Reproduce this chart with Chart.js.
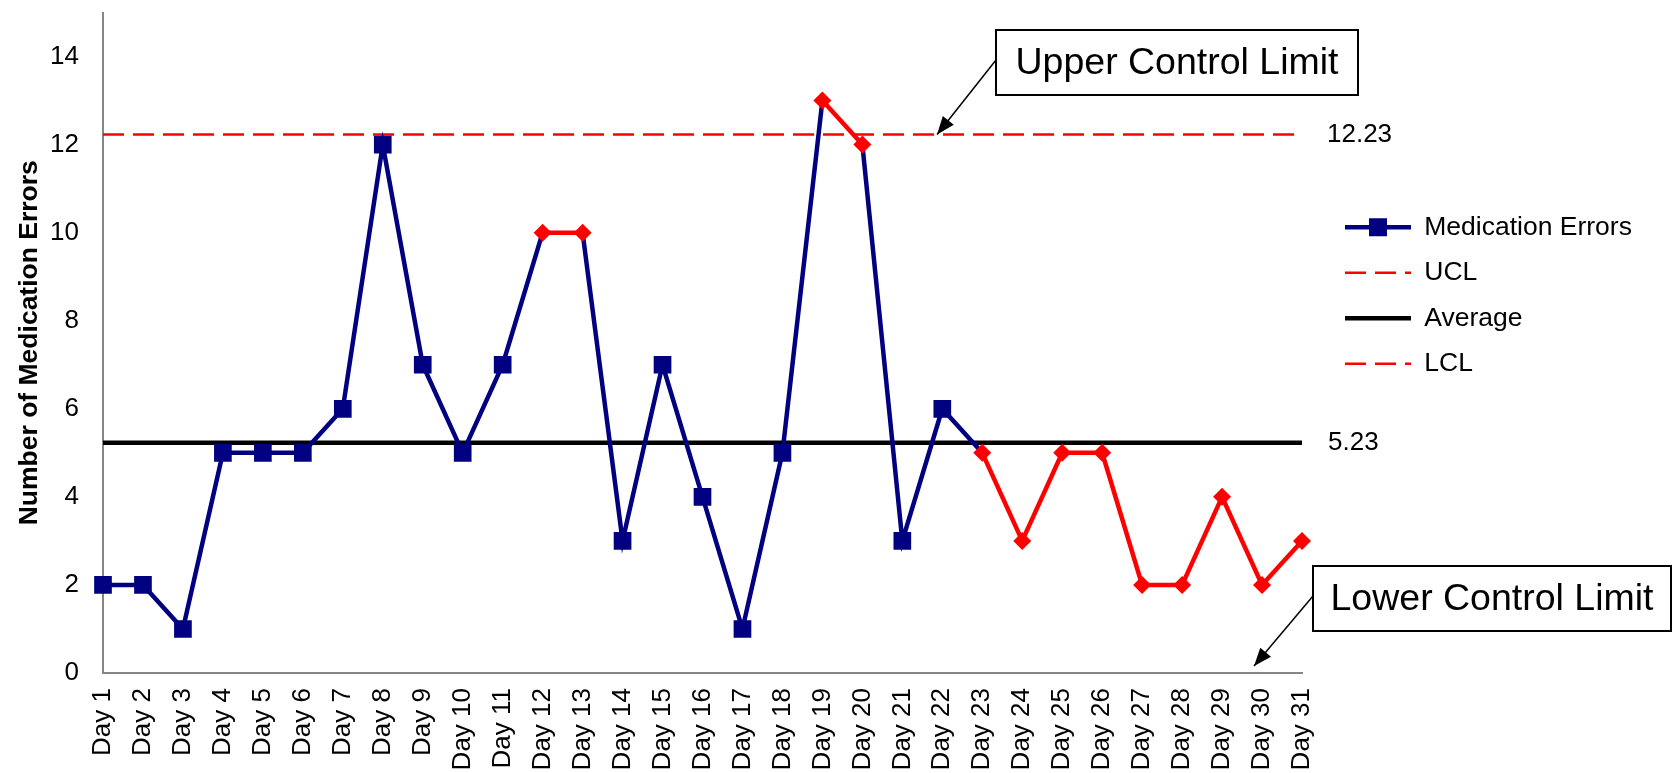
<!DOCTYPE html>
<html>
<head>
<meta charset="utf-8">
<title>Medication Errors Control Chart</title>
<script src="https://cdn.jsdelivr.net/npm/chart.js@4/dist/chart.umd.min.js"></script>
<style>
    html, body { margin: 0; padding: 0; background: #ffffff; }
    #wrap { width: 1679px; height: 773px; position: relative; }
</style>
</head>
<body>
<div id="wrap"><canvas id="controlChart"></canvas></div>
<script>
// Chart data
const days = ["Day 1", "Day 2", "Day 3", "Day 4", "Day 5", "Day 6", "Day 7", "Day 8", "Day 9", "Day 10",
    "Day 11", "Day 12", "Day 13", "Day 14", "Day 15", "Day 16", "Day 17", "Day 18", "Day 19", "Day 20",
    "Day 21", "Day 22", "Day 23", "Day 24", "Day 25", "Day 26", "Day 27", "Day 28", "Day 29", "Day 30", "Day 31"];
const errors = [2, 2, 1, 5, 5, 5, 6, 12, 7, 5, 7, 10, 10, 3, 7, 4, 1, 5, 13, 12, 3, 6, 5, 3, 5, 5, 2, 2, 4, 2, 3];
// 1 = point flagged out of control (drawn red)
const flagged = [0, 0, 0, 0, 0, 0, 0, 0, 0, 0, 0, 1, 1, 0, 0, 0, 0, 0, 1, 1, 0, 0, 1, 1, 1, 1, 1, 1, 1, 1, 1];
const uclValue = 12.23;
const avgValue = 5.23;
const lclValue = -1.77;
const yTicks = [0, 2, 4, 6, 8, 10, 12, 14];

const NAVY = "#000080";
const RED = "#FF0000";
const FONT = "'Liberation Sans', Arial, sans-serif";
const LEGEND_LINE = 66;

Chart.defaults.font.family = FONT;
Chart.defaults.color = "#000000";

// Move the legend to where it sits in the original
const legendPlace = {
    id: "legendPlace",
    afterLayout(chart) {
        const lg = chart.legend;
        const w = lg.width;
        const h = lg.height;
        lg.left = 1326;
        lg.top = 195;
        lg.right = lg.left + w;
        lg.bottom = lg.top + h;
    }
};

// Callout box with an arrow
function drawCallout(ctx, text, left, top, w, h, tipX, tipY) {
    const sx = left;
    const sy = top + 30;
    ctx.strokeStyle = "#000000";
    ctx.fillStyle = "#000000";
    ctx.lineWidth = 1.5;
    ctx.setLineDash([]);
    ctx.beginPath();
    ctx.moveTo(sx, sy);
    ctx.lineTo(tipX, tipY);
    ctx.stroke();

    // arrow head
    const ang = Math.atan2(tipY - sy, tipX - sx);
    const len = 18, half = 7;
    const bx = tipX - Math.cos(ang) * len;
    const by = tipY - Math.sin(ang) * len;
    ctx.beginPath();
    ctx.moveTo(tipX, tipY);
    ctx.lineTo(bx + Math.sin(ang) * half, by - Math.cos(ang) * half);
    ctx.lineTo(bx - Math.sin(ang) * half, by + Math.cos(ang) * half);
    ctx.closePath();
    ctx.fill();

    ctx.fillStyle = "#ffffff";
    ctx.fillRect(left, top, w, h);
    ctx.lineWidth = 2;
    ctx.strokeRect(left, top, w, h);
    ctx.fillStyle = "#000000";
    ctx.font = "37.5px " + FONT;
    ctx.textAlign = "center";
    ctx.textBaseline = "middle";
    ctx.fillText(text, left + w / 2, top + h / 2 + 1);
}

const annotations = {
    id: "annotations",
    afterDraw(chart) {
        const ctx = chart.ctx;
        const xs = chart.scales.x;
        const ys = chart.scales.y;
        ctx.save();

        // value labels at the end of the limit lines
        ctx.font = "26px " + FONT;
        ctx.fillStyle = "#000000";
        ctx.textAlign = "left";
        ctx.textBaseline = "middle";
        ctx.fillText(uclValue.toFixed(2), 1327, ys.getPixelForValue(uclValue));
        ctx.fillText(avgValue.toFixed(2), 1328, ys.getPixelForValue(avgValue));

        drawCallout(ctx, "Upper Control Limit", 996, 30, 362, 65,
            xs.getPixelForValue(20.87), ys.getPixelForValue(uclValue));
        drawCallout(ctx, "Lower Control Limit", 1313, 566, 358, 65,
            xs.getPixelForValue(28.8), ys.getPixelForValue(0.16));

        // square marker on the first legend line
        const hb = chart.legend.legendHitBoxes[0];
        if (hb) {
            const cx = hb.left + LEGEND_LINE / 2;
            const cy = hb.top + hb.height / 2;
            ctx.fillStyle = NAVY;
            ctx.fillRect(cx - 9, cy - 9, 18, 18);
        }
        ctx.restore();
    }
};

const ctx = document.getElementById("controlChart");
new Chart(ctx, {
    type: "line",
    data: {
        labels: days,
        datasets: [
            {
                label: "Medication Errors",
                data: errors,
                borderColor: NAVY,
                borderWidth: 4.5,
                tension: 0,
                pointStyle: c => flagged[c.dataIndex] ? "rectRot" : "rect",
                pointRadius: c => flagged[c.dataIndex] ? 9 : 12.5,
                pointBackgroundColor: c => flagged[c.dataIndex] ? RED : NAVY,
                pointBorderColor: c => flagged[c.dataIndex] ? RED : NAVY,
                pointBorderWidth: 0,
                segment: {
                    borderColor: c => (flagged[c.p0DataIndex] && flagged[c.p1DataIndex]) ? RED : NAVY
                }
            },
            {
                label: "UCL",
                data: days.map(() => uclValue),
                borderColor: RED,
                borderWidth: 2.5,
                borderDash: [21, 9],
                pointRadius: 0
            },
            {
                label: "Average",
                data: days.map(() => avgValue),
                borderColor: "#000000",
                borderWidth: 4.5,
                pointRadius: 0
            },
            {
                label: "LCL",
                data: days.map(() => lclValue),
                borderColor: RED,
                borderWidth: 2.5,
                borderDash: [21, 9],
                pointRadius: 0
            }
        ]
    },
    options: {
        responsive: true,
        maintainAspectRatio: false,
        animation: false,
        layout: {
            padding: { top: 8, right: 377, bottom: 0, left: 0 }
        },
        plugins: {
            tooltip: { enabled: false },
            legend: {
                position: "chartArea",
                align: "start",
                labels: {
                    usePointStyle: true,
                    pointStyleWidth: LEGEND_LINE,
                    padding: 19,
                    color: "#000000",
                    font: { size: 26.5 },
                    generateLabels(chart) {
                        return chart.data.datasets.map((ds, i) => ({
                            text: ds.label,
                            datasetIndex: i,
                            pointStyle: "line",
                            fillStyle: ds.borderColor,
                            strokeStyle: ds.borderColor,
                            lineWidth: ds.borderWidth,
                            lineDash: ds.borderDash || [],
                            hidden: !chart.isDatasetVisible(i)
                        }));
                    }
                }
            }
        },
        scales: {
            x: {
                offset: false,
                afterFit(scale) {
                    scale.height = 100;
                    scale.paddingLeft = 0;
                    scale.paddingRight = 0;
                },
                grid: { display: false, drawTicks: false },
                border: { display: true, color: "#868686", width: 2 },
                ticks: {
                    color: "#000000",
                    autoSkip: false,
                    maxRotation: 90,
                    minRotation: 90,
                    padding: 15,
                    font: { size: 26 }
                }
            },
            y: {
                min: 0,
                max: 15,
                afterBuildTicks(scale) {
                    scale.ticks = yTicks.map(v => ({ value: v }));
                },
                afterFit(scale) {
                    scale.width = 103;
                    scale.paddingTop = 0;
                    scale.paddingBottom = 0;
                },
                grid: { display: false, drawTicks: false },
                border: { display: true, color: "#868686", width: 2 },
                ticks: {
                    color: "#000000",
                    padding: 24,
                    font: { size: 26 }
                },
                title: {
                    display: true,
                    text: "Number of Medication Errors",
                    color: "#000000",
                    font: { size: 26.5, weight: "bold" },
                    padding: { top: 14, bottom: 0 }
                }
            }
        }
    },
    plugins: [legendPlace, annotations]
});
</script>
</body>
</html>
